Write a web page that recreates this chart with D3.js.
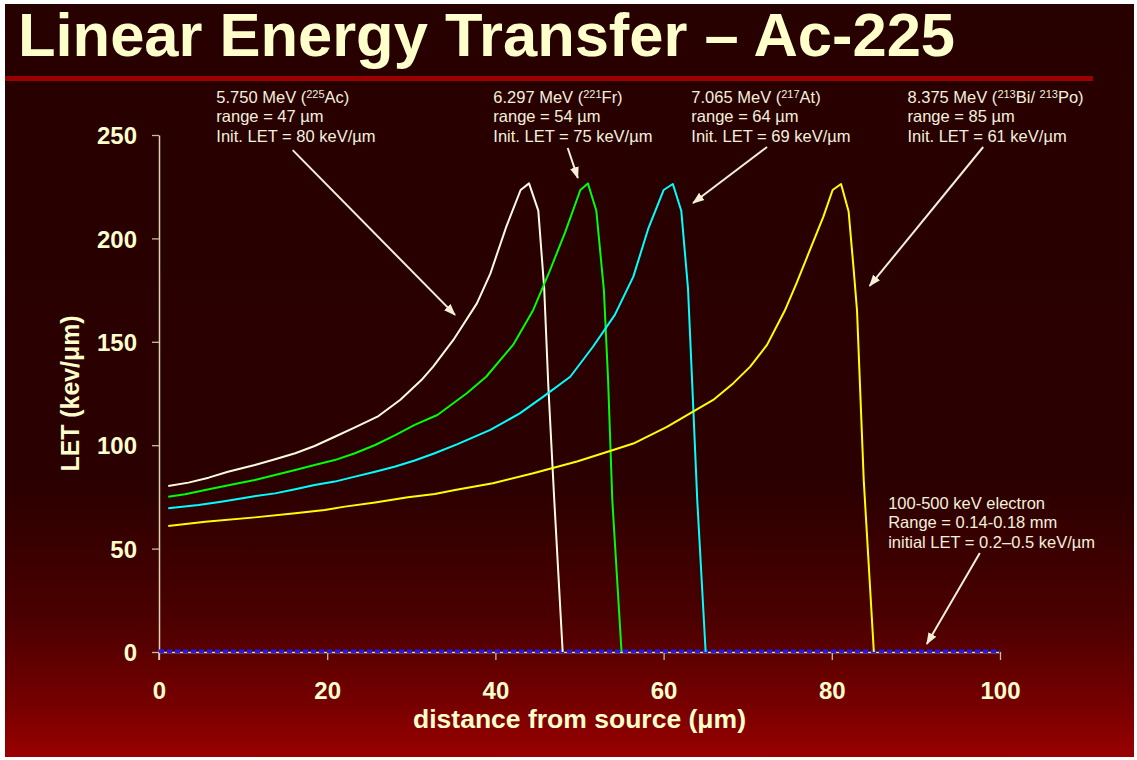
<!DOCTYPE html>
<html><head><meta charset="utf-8">
<script src="https://cdn.jsdelivr.net/npm/d3@7"></script>
<style>html,body{margin:0;padding:0;background:#fff;} svg{display:block;}</style>
</head><body><svg id="c" width="1137" height="760"></svg>
<script>
const titleText = "Linear Energy Transfer – Ac-225";
const xLabel = "distance from source (μm)";
const yLabel = "LET (kev/μm)";
const xTicks = [0, 20, 40, 60, 80, 100];
const yTicks = [0, 50, 100, 150, 200, 250];

// 225Ac alpha (5.750 MeV)
const acX = [1.1, 3.5, 5.9, 8.2, 11.4, 13.8, 16.2, 18.5, 20.9, 23.3, 26.1, 28.7, 31.2, 32.6, 35, 37.8, 39.4, 41.3, 43, 44, 45.1, 45.8, 46.3, 47, 48];
const acY = [80.3, 81.9, 84.3, 87.2, 90.4, 93.2, 96.1, 99.6, 104.1, 108.6, 114.1, 122, 131.5, 138, 150.9, 168.6, 183, 205.7, 223.4, 226.6, 213.4, 176, 128, 73.5, 0];
// 221Fr alpha (6.297 MeV)
const frX = [1.1, 3.1, 5.5, 9, 11.4, 13.8, 16.2, 18.5, 20.9, 23.3, 25.7, 28.1, 30.4, 33.1, 36.6, 38.9, 42.1, 44.5, 46.5, 48.3, 50.1, 51, 52, 52.9, 53.4, 53.9, 55];
const frY = [75.1, 76.3, 78.3, 81.2, 83.2, 85.6, 88, 90.4, 92.8, 96.1, 100.1, 104.9, 109.8, 114.6, 125.1, 133.1, 148.5, 165.4, 184.7, 203, 223.4, 226.6, 213.4, 175, 131.5, 73.5, 0];
// 217At alpha (7.065 MeV)
const atX = [1.1, 4.7, 7.4, 11, 13.8, 16.2, 18.5, 20.9, 23.3, 25.7, 28.1, 30.4, 32.7, 35.5, 39.4, 42.9, 45.7, 48.9, 51.6, 54.2, 56.4, 58.2, 60, 61.1, 62.1, 62.9, 63.4, 64, 65];
const atY = [69.5, 71.1, 72.7, 75.1, 76.7, 78.7, 80.8, 82.4, 84.8, 87.2, 89.7, 92.6, 96, 100.5, 107.4, 115.4, 123.5, 133.1, 147.6, 163, 181.5, 205, 223.4, 226.3, 213.4, 175.9, 130, 73.5, 0];
// 213Bi/213Po alpha (8.375 MeV)
const biX = [1.1, 5.5, 11.4, 16.2, 19.7, 22.1, 25.7, 29.6, 32.8, 35.2, 39.7, 44.5, 49.7, 54, 56.4, 60.4, 63.5, 65.9, 68.3, 70.3, 72.3, 74.4, 75.8, 77, 79, 80.1, 81.1, 82, 82.6, 83, 83.8, 85];
const biY = [60.9, 63, 65.1, 67.1, 68.7, 70.3, 72.3, 74.8, 76.4, 78.3, 81.6, 86.4, 92.1, 97.7, 100.8, 108.9, 116.2, 121.9, 130, 138, 148.5, 165, 178.3, 190.4, 210.5, 223.4, 226.3, 213, 185, 165, 83, 0];
// electron (100-500 keV)
const elX = [0, 100];
const elY = [0.4, 0.4];

const seriesColors = ["#fffbe0", "#00ff00", "#00ffff", "#ffff00"];

// annotation texts (segments: [text, isSuperscript])
const labelLines = [
  [[["5.750 MeV  (", 0], ["225", 1], ["Ac)", 0]], [["range = 47 µm", 0]], [["Init. LET = 80 keV/µm", 0]]],
  [[["6.297 MeV  (", 0], ["221", 1], ["Fr)", 0]], [["range = 54 µm", 0]], [["Init. LET = 75 keV/µm", 0]]],
  [[["7.065 MeV  (", 0], ["217", 1], ["At)", 0]], [["range = 64 µm", 0]], [["Init. LET = 69 keV/µm", 0]]],
  [[["8.375 MeV  (", 0], ["213", 1], ["Bi/ ", 0], ["213", 1], ["Po)", 0]], [["range = 85 µm", 0]], [["Init. LET = 61 keV/µm", 0]]],
  [[["100-500 keV  electron", 0]], [["Range = 0.14-0.18 mm", 0]], [["initial LET = 0.2–0.5 keV/µm", 0]]]
];
// label anchor (data coords) of first line
const labelPosX = [6.82, 39.75, 63.3, 89.0, 86.7];
const labelPosY = [265.5, 265.5, 265.5, 265.5, 69.2];
// arrows (data coords)
const arrowX1 = [15.9, 48.6, 72.3, 98.0, 97.6];
const arrowY1 = [242.7, 243.7, 244.2, 244.2, 47.9];
const arrowX2 = [35.2, 49.8, 63.5, 84.5, 91.3];
const arrowY2 = [163.0, 229.2, 217.1, 177.0, 3.9];

const svg = d3.select("#c");
const cream = "#ffffcc";

const defs = svg.append("defs");
const grad = defs.append("linearGradient").attr("id", "bg").attr("x1", 0).attr("y1", 0).attr("x2", 0).attr("y2", 1);
[[0, "#270000"], [0.64, "#2b0000"], [0.82, "#4c0000"], [0.93, "#760000"], [1, "#9a0000"]]
  .forEach(s => grad.append("stop").attr("offset", s[0]).attr("stop-color", s[1]));
defs.append("marker").attr("id", "ah").attr("markerUnits", "userSpaceOnUse")
  .attr("viewBox", "0 -5 12 10").attr("refX", 11).attr("refY", 0)
  .attr("markerWidth", 12).attr("markerHeight", 10).attr("orient", "auto")
  .append("path").attr("d", "M0,-4.5L12,0L0,4.5Z").attr("fill", "#f4f0d8");

svg.append("rect").attr("x", 5).attr("y", 4).attr("width", 1129).attr("height", 753).attr("fill", "url(#bg)");
svg.append("rect").attr("x", 5).attr("y", 76).attr("width", 1088).attr("height", 5).attr("fill", "#9a0000");

svg.append("text").attr("x", 18).attr("y", 56)
  .attr("font-family", "Liberation Sans, Arial, sans-serif").attr("font-weight", "bold")
  .attr("font-size", 61).attr("fill", cream)
  .attr("textLength", 937).attr("lengthAdjust", "spacingAndGlyphs")
  .text(titleText);

const x = d3.scaleLinear().domain([0, 100]).range([159, 1000]);
const y = d3.scaleLinear().domain([0, 250]).range([652, 135]);

const axisColor = "#ddd3ae";
const gx = svg.append("g").attr("transform", `translate(0,${y(0)})`)
  .call(d3.axisBottom(x).tickValues(xTicks).tickSize(8).tickSizeOuter(0).tickPadding(22));
const gy = svg.append("g").attr("transform", `translate(${x(0)},0)`)
  .call(d3.axisLeft(y).tickValues(yTicks).tickSize(7).tickSizeOuter(0).tickPadding(15));
[gx, gy].forEach(g => {
  g.select(".domain").attr("stroke", axisColor).attr("stroke-width", 1.5);
  g.selectAll(".tick line").attr("stroke", "#c9bd98").attr("stroke-width", 1.3);
  g.selectAll(".tick text").attr("fill", cream).attr("font-family", "Liberation Sans, Arial, sans-serif")
    .attr("font-weight", "bold").attr("font-size", 24);
});
gy.selectAll(".tick text").attr("dy", "0.36em");
svg.append("line").attr("x1", x(0)).attr("x2", x(0)).attr("y1", y(0)).attr("y2", y(0) + 8)
  .attr("stroke", axisColor).attr("stroke-width", 1.5);

svg.append("text").attr("x", (x(0) + x(100)) / 2).attr("y", 728).attr("text-anchor", "middle")
  .attr("font-family", "Liberation Sans, Arial, sans-serif").attr("font-weight", "bold")
  .attr("font-size", 25).attr("fill", cream)
  .attr("textLength", 333).attr("lengthAdjust", "spacingAndGlyphs").text(xLabel);
svg.append("text").attr("transform", `translate(79,${(y(0) + y(250)) / 2}) rotate(-90)`)
  .attr("text-anchor", "middle")
  .attr("font-family", "Liberation Sans, Arial, sans-serif").attr("font-weight", "bold")
  .attr("font-size", 25).attr("fill", cream)
  .attr("textLength", 156).attr("lengthAdjust", "spacingAndGlyphs").text(yLabel);

const line = d3.line().x(d => x(d[0])).y(d => y(d[1]));

svg.append("path").datum(elX.map((v, i) => [v, elY[i]]))
  .attr("d", line).attr("fill", "none").attr("stroke", "#1a1aff")
  .attr("stroke-width", 3.5).attr("stroke-dasharray", "5,3");

const series = [[acX, acY], [frX, frY], [atX, atY], [biX, biY]];
series.forEach((s, k) => {
  svg.append("path").datum(s[0].map((v, i) => [v, s[1][i]]))
    .attr("d", line).attr("fill", "none").attr("stroke", seriesColors[k])
    .attr("stroke-width", 2).attr("stroke-linejoin", "round");
});

arrowX1.forEach((v, i) => {
  svg.append("line").attr("x1", x(v)).attr("y1", y(arrowY1[i]))
    .attr("x2", x(arrowX2[i])).attr("y2", y(arrowY2[i]))
    .attr("stroke", "#f4f0d8").attr("stroke-width", 2).attr("marker-end", "url(#ah)");
});

labelLines.forEach((lines, i) => {
  const t = svg.append("text").attr("font-family", "Liberation Sans, Arial, sans-serif")
    .attr("font-size", 16.5).attr("fill", "#f4f0dc");
  lines.forEach((segs, j) => {
    segs.forEach((seg, m) => {
      const ts = t.append("tspan").text(seg[0]);
      if (m === 0) ts.attr("x", x(labelPosX[i])).attr("y", y(labelPosY[i]) + j * 19.5);
      if (seg[1]) ts.attr("font-size", 11).attr("baseline-shift", "5");
    });
  });
});
</script></body></html>
